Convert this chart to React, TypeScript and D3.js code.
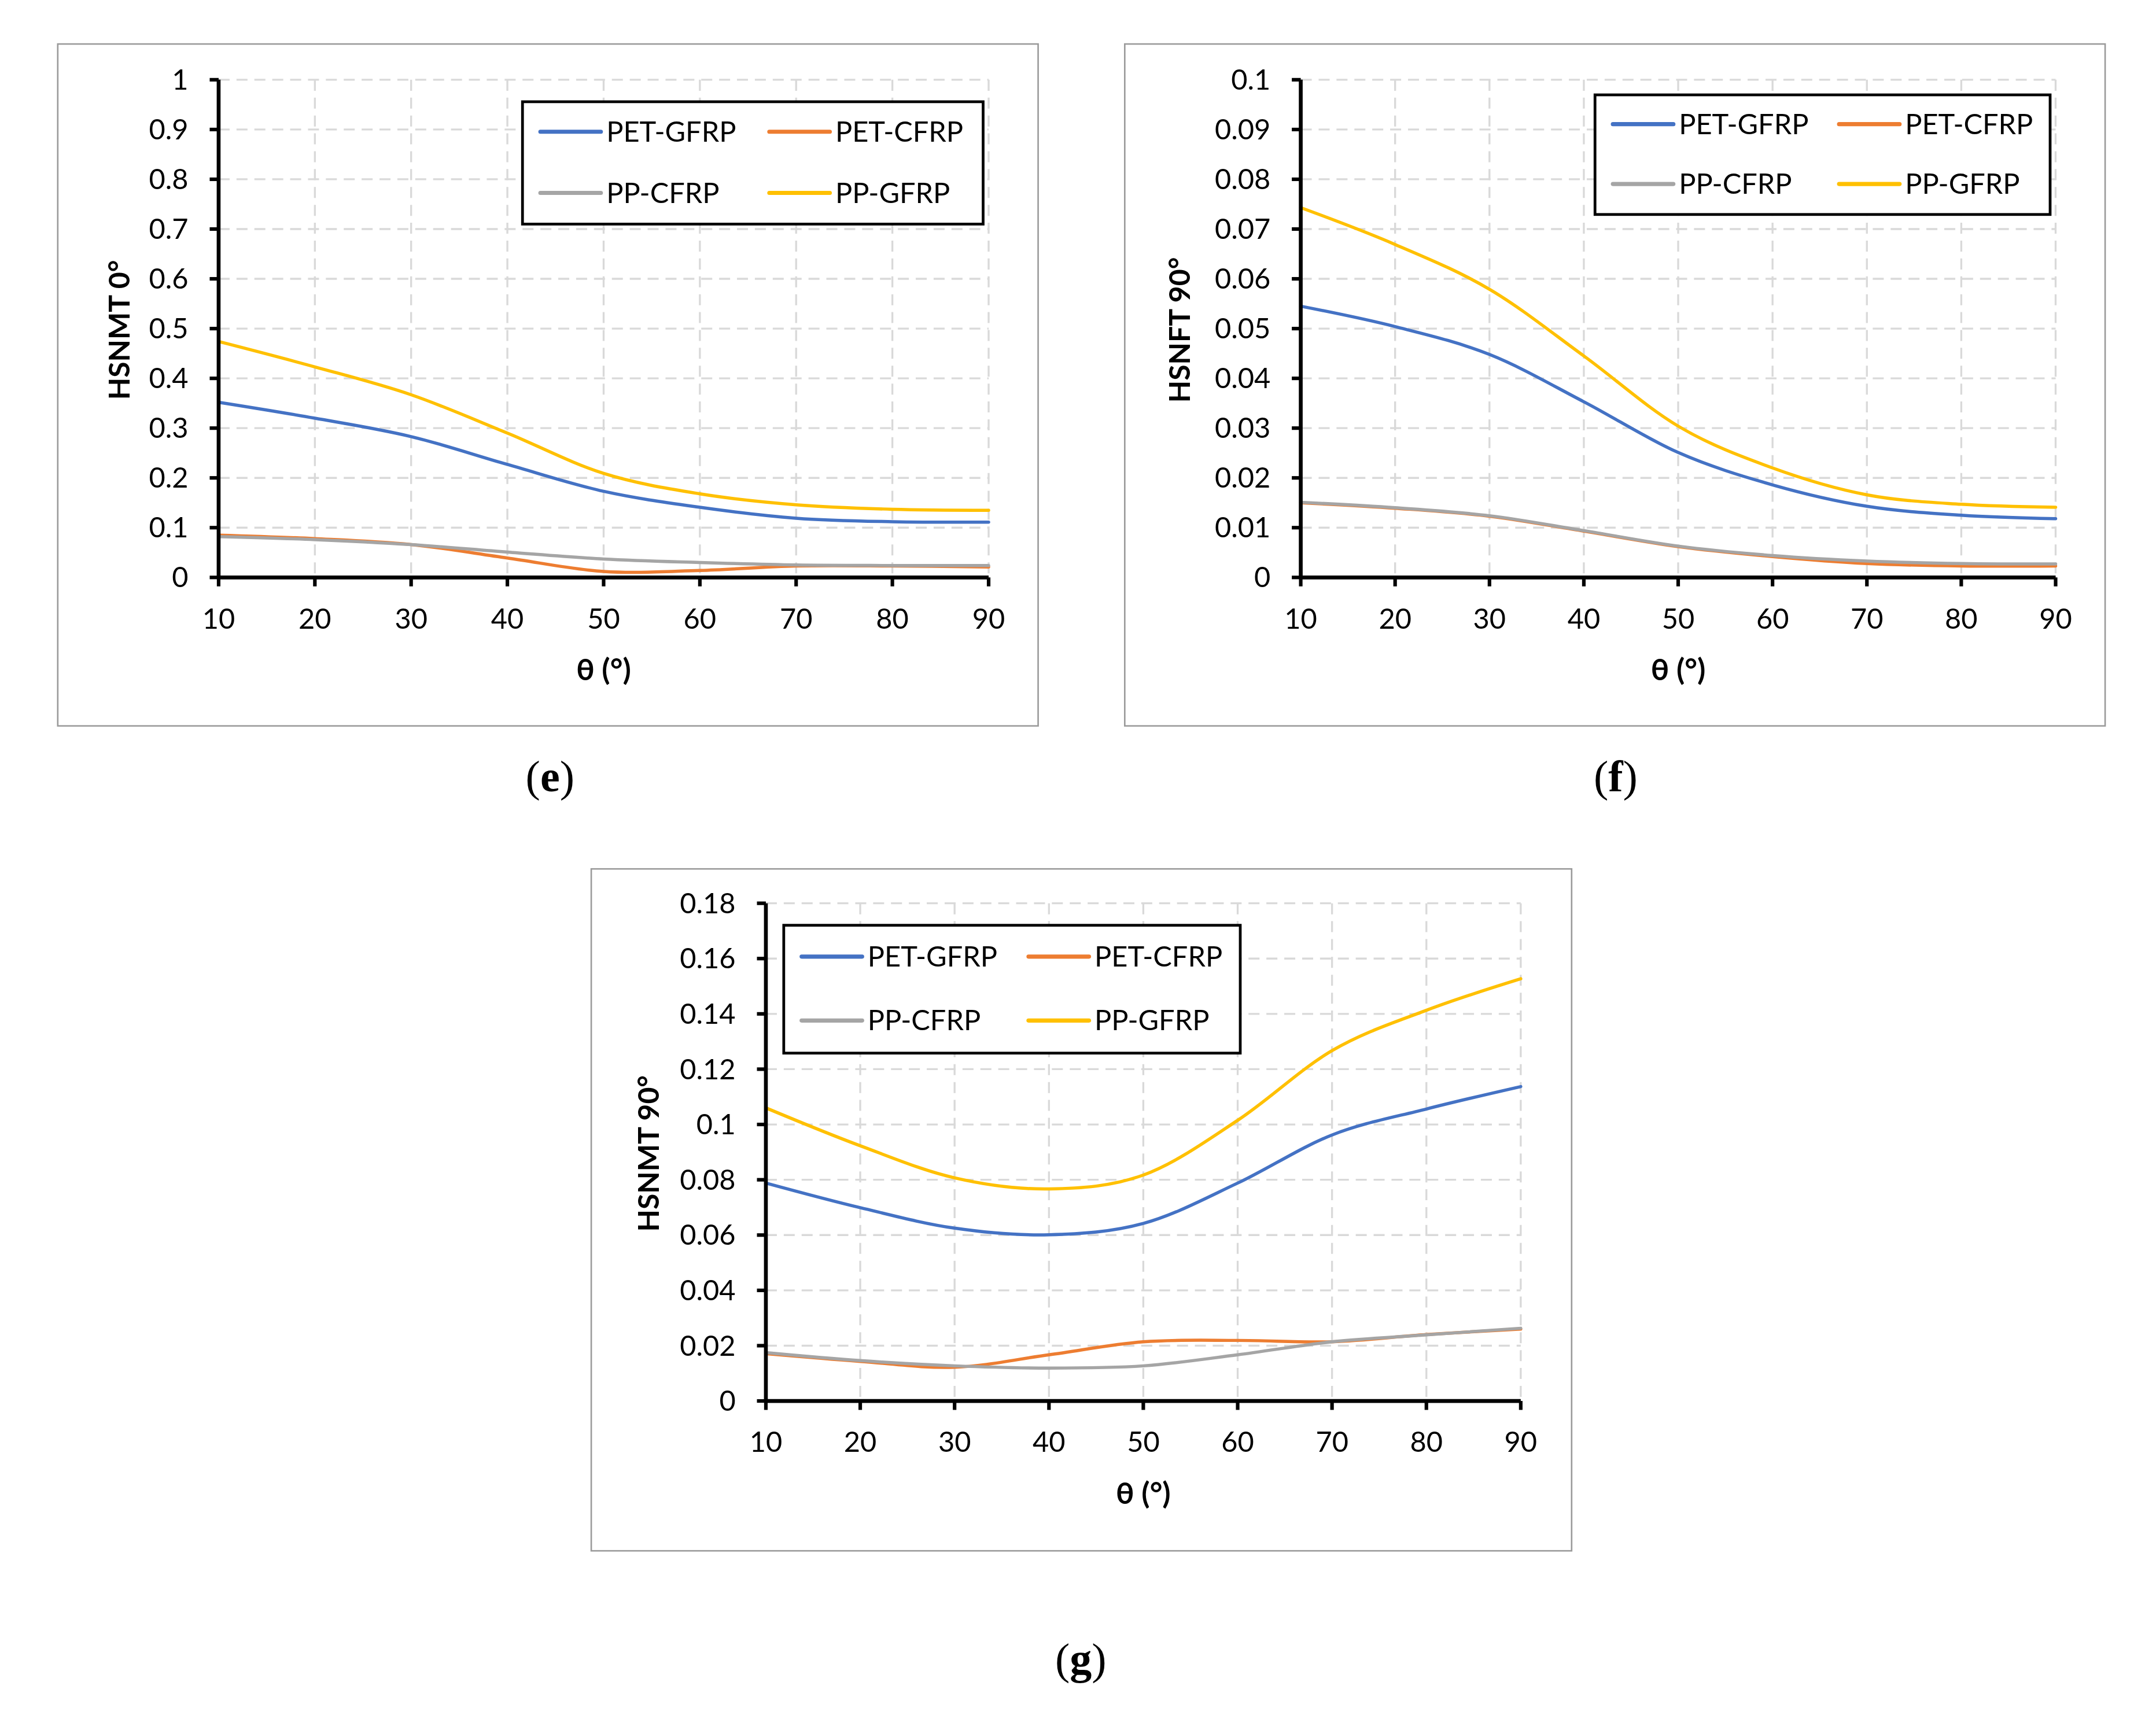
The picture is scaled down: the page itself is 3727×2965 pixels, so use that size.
import * as d3 from 'd3';

const angles = [10, 20, 30, 40, 50, 60, 70, 80, 90];
const seriesNames = ['PET-GFRP', 'PET-CFRP', 'PP-CFRP', 'PP-GFRP'];
const seriesColors = ['#4472C4', '#ED7D31', '#A5A5A5', '#FFC000'];

// (e) HSNMT 0°
const eBlue = [0.352, 0.32, 0.283, 0.227, 0.173, 0.141, 0.119, 0.112, 0.111];
const eOrange = [0.085, 0.078, 0.066, 0.039, 0.012, 0.014, 0.023, 0.023, 0.021];
const eGray = [0.082, 0.076, 0.066, 0.051, 0.037, 0.03, 0.025, 0.024, 0.024];
const eYellow = [0.474, 0.423, 0.367, 0.29, 0.209, 0.168, 0.146, 0.137, 0.135];
const eTicks = ['0', '0.1', '0.2', '0.3', '0.4', '0.5', '0.6', '0.7', '0.8', '0.9', '1'];

// (f) HSNFT 90°
const fBlue = [0.0545, 0.0504, 0.0448, 0.0353, 0.0251, 0.0186, 0.0143, 0.0125, 0.0118];
const fOrange = [0.015, 0.0139, 0.0123, 0.0093, 0.0062, 0.0042, 0.0028, 0.0023, 0.0023];
const fGray = [0.0151, 0.014, 0.0124, 0.0094, 0.0063, 0.0044, 0.0033, 0.0028, 0.0027];
const fYellow = [0.0743, 0.0669, 0.0579, 0.0445, 0.0304, 0.022, 0.0166, 0.0147, 0.0141];
const fTicks = ['0', '0.01', '0.02', '0.03', '0.04', '0.05', '0.06', '0.07', '0.08', '0.09', '0.1'];

// (g) HSNMT 90°
const gBlue = [0.0788, 0.0699, 0.0625, 0.0601, 0.0642, 0.0788, 0.0962, 0.1056, 0.1137];
const gOrange = [0.0171, 0.0143, 0.0122, 0.0167, 0.0214, 0.0219, 0.0214, 0.024, 0.026];
const gGray = [0.0175, 0.0146, 0.0127, 0.0119, 0.0127, 0.0167, 0.0214, 0.0239, 0.0263];
const gYellow = [0.106, 0.0923, 0.0807, 0.0767, 0.0817, 0.1015, 0.1267, 0.1413, 0.1527];
const gTicks = ['0', '0.02', '0.04', '0.06', '0.08', '0.1', '0.12', '0.14', '0.16', '0.18'];

// layout is measured on a 1568-wide copy of the figure, scaled up by the viewBox
const W = 1568;
const H = (W * 2965) / 3727;
const SANS = 'Lato, "Open Sans", sans-serif';

interface PanelProps {
  frame: [number, number, number, number];
  plot: { left: number; right: number; top: number; bottom: number };
  yTicks: string[];
  yTitle: string;
  yTitleX: number;
  legend: [number, number, number, number];
  values: number[][];
  label: string;
  labelPos: [number, number];
}

function Panel(p: PanelProps) {
  const { plot } = p;
  const yVals = p.yTicks.map(Number);
  const x = d3.scaleLinear().domain([10, 90]).range([plot.left, plot.right]);
  const y = d3.scaleLinear().domain([0, d3.max(yVals) as number]).range([plot.bottom, plot.top]);
  const line = d3
    .line<number>()
    .x((_, i) => x(angles[i]))
    .y((d) => y(d))
    .curve(d3.curveCardinal.tension(0));
  const [lx, ly, lw, lh] = p.legend;
  const rowY = [ly + lh * 0.245, ly + lh * 0.745];
  const colX = [lx + 13, lx + 13 + (lw - 26) / 2 + 12];
  const [fx, fy, fw, fh] = p.frame;
  return (
    <g>
      <rect x={fx} y={fy} width={fw} height={fh} fill="#fff" stroke="#9a9a9a" strokeWidth={1.1} />
      {yVals.map((v, i) => (
        <line key={'hy' + i} x1={plot.left} x2={plot.right} y1={y(v)} y2={y(v)}
          stroke="#d9d9d9" strokeWidth={1.4} strokeDasharray="8,5" />
      ))}
      {angles.map((a) => (
        <line key={'vx' + a} x1={x(a)} x2={x(a)} y1={plot.top} y2={plot.bottom}
          stroke="#d9d9d9" strokeWidth={1.4} strokeDasharray="8,5" />
      ))}
      {p.values.map((vals, i) => (
        <path key={'s' + i} d={line(vals) || ''} fill="none" stroke={seriesColors[i]}
          strokeWidth={2.3} strokeLinecap="round" />
      ))}
      <line x1={plot.left} x2={plot.left} y1={plot.top} y2={plot.bottom + 1} stroke="#000" strokeWidth={2.8} />
      <line x1={plot.left - 1} x2={plot.right} y1={plot.bottom} y2={plot.bottom} stroke="#000" strokeWidth={2.8} />
      {yVals.map((v, i) => (
        <g key={'yt' + i}>
          <line x1={plot.left - 6.5} x2={plot.left} y1={y(v)} y2={y(v)} stroke="#000" strokeWidth={2.6} />
          <text x={plot.left - 22} y={y(v)} dy="0.35em" textAnchor="end" fontFamily={SANS}
            fontSize={20.5} fill="#000">{p.yTicks[i]}</text>
        </g>
      ))}
      {angles.map((a) => (
        <g key={'xt' + a}>
          <line x1={x(a)} x2={x(a)} y1={plot.bottom} y2={plot.bottom + 6.5} stroke="#000" strokeWidth={2.6} />
          <text x={x(a)} y={plot.bottom + 30} dy="0.35em" textAnchor="middle" fontFamily={SANS}
            fontSize={20.5} fill="#000">{a}</text>
        </g>
      ))}
      <text x={(plot.left + plot.right) / 2} y={plot.bottom + 67} dy="0.35em" textAnchor="middle"
        fontFamily={SANS} fontWeight="bold" fontSize={22} fill="#000">θ (°)</text>
      <text transform={`translate(${p.yTitleX},${(plot.top + plot.bottom) / 2 + 1}) rotate(-90)`}
        dy="0.35em" textAnchor="middle" fontFamily={SANS} fontWeight="bold" fontSize={21} fill="#000">
        {p.yTitle}
      </text>
      <rect x={lx} y={ly} width={lw} height={lh} fill="#fff" stroke="#000" strokeWidth={2} />
      {seriesNames.map((name, si) => {
        const cx = colX[si % 2];
        const cy = rowY[Math.floor(si / 2)];
        return (
          <g key={'lg' + si}>
            <line x1={cx} x2={cx + 44} y1={cy} y2={cy} stroke={seriesColors[si]} strokeWidth={3}
              strokeLinecap="round" />
            <text x={cx + 48} y={cy} dy="0.35em" fontFamily={SANS} fontSize={20.5} fill="#000">
              {name}
            </text>
          </g>
        );
      })}
      <text x={p.labelPos[0]} y={p.labelPos[1]} dy="0.33em" textAnchor="middle"
        fontFamily='"Liberation Serif", "DejaVu Serif", serif' fontSize={32} fill="#000">
        (<tspan fontWeight="bold">{p.label}</tspan>)
      </text>
    </g>
  );
}

export default function App() {
  return (
    <svg width={3727} height={2965} viewBox={`0 0 ${W} ${H}`}
      style={{ position: 'absolute', left: 0, top: 0, background: '#fff' }}>
      <rect x={0} y={0} width={W} height={H} fill="#fff" />
      <Panel
        frame={[42, 32, 713, 496]}
        plot={{ left: 159, right: 719, top: 58, bottom: 420 }}
        yTicks={eTicks}
        yTitle="HSNMT 0°"
        yTitleX={87}
        legend={[380, 74, 335, 89]}
        values={[eBlue, eOrange, eGray, eYellow]}
        label="e"
        labelPos={[400, 565]}
      />
      <Panel
        frame={[818, 32, 713, 496]}
        plot={{ left: 946, right: 1495, top: 58, bottom: 420 }}
        yTicks={fTicks}
        yTitle="HSNFT 90°"
        yTitleX={858}
        legend={[1160, 69, 331, 87]}
        values={[fBlue, fOrange, fGray, fYellow]}
        label="f"
        labelPos={[1175, 565]}
      />
      <Panel
        frame={[430, 632, 713, 496]}
        plot={{ left: 557, right: 1106, top: 657, bottom: 1019 }}
        yTicks={gTicks}
        yTitle="HSNMT 90°"
        yTitleX={472}
        legend={[570, 673, 332, 93]}
        values={[gBlue, gOrange, gGray, gYellow]}
        label="g"
        labelPos={[786, 1207]}
      />
    </svg>
  );
}
